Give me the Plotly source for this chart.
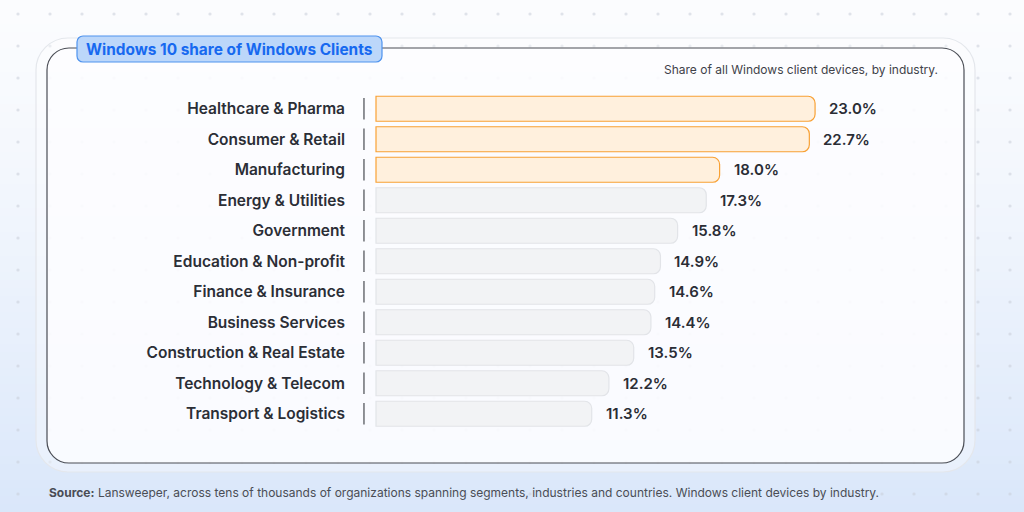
import plotly.graph_objects as go

industries = ["Healthcare & Pharma", "Consumer & Retail", "Manufacturing",
              "Energy & Utilities", "Government", "Education & Non-profit",
              "Finance & Insurance", "Business Services",
              "Construction & Real Estate", "Technology & Telecom",
              "Transport & Logistics"]
share = [23.0, 22.7, 18.0, 17.3, 15.8, 14.9, 14.6, 14.4, 13.5, 12.2, 11.3]
highlight = [True, True, True, False, False, False, False, False, False, False, False]

title = "Windows 10 share of Windows Clients"
subtitle = "Share of all Windows client devices, by industry."
source = ("<b>Source:</b> Lansweeper, across tens of thousands of organizations spanning "
          "segments, industries and countries. Windows client devices by industry.")

W, H = 1024, 512
FONT = "Inter, Roboto, sans-serif"


def px(x):
    return x / W


def py(y):
    return 1 - y / H


def rrect(x0, y0, x1, y1, r):
    # rounded rectangle path in paper coords, from pixel box
    k = 0.4477 * r
    pts = [
        f"M{px(x0 + r)},{py(y0)}",
        f"L{px(x1 - r)},{py(y0)}",
        f"C{px(x1 - k)},{py(y0)} {px(x1)},{py(y0 + k)} {px(x1)},{py(y0 + r)}",
        f"L{px(x1)},{py(y1 - r)}",
        f"C{px(x1)},{py(y1 - k)} {px(x1 - k)},{py(y1)} {px(x1 - r)},{py(y1)}",
        f"L{px(x0 + r)},{py(y1)}",
        f"C{px(x0 + k)},{py(y1)} {px(x0)},{py(y1 - k)} {px(x0)},{py(y1 - r)}",
        f"L{px(x0)},{py(y0 + r)}",
        f"C{px(x0)},{py(y0 + k)} {px(x0 + k)},{py(y0)} {px(x0 + r)},{py(y0)}",
        "Z",
    ]
    return " ".join(pts)


shapes = []

# background gradient bands
top = (251, 252, 254)
bot = (218, 231, 250)
n = 64
for i in range(n):
    t = (i / (n - 1)) ** 1.3
    c = tuple(round(top[j] + (bot[j] - top[j]) * t) for j in range(3))
    shapes.append(dict(type="rect", xref="paper", yref="paper", layer="below",
                       x0=0, x1=1, y0=py((i + 1) * H / n + 0.5), y1=py(i * H / n),
                       line=dict(width=0), fillcolor=f"rgb{c}"))

# dot grid
for gx in range(18, W, 32):
    for gy in range(14, H, 32):
        shapes.append(dict(type="circle", xref="paper", yref="paper", layer="below",
                           x0=px(gx - 1.6), x1=px(gx + 1.6), y0=py(gy + 1.6), y1=py(gy - 1.6),
                           line=dict(width=0), fillcolor="rgba(200,205,216,0.55)"))

# outer and inner panels
shapes.append(dict(type="path", xref="paper", yref="paper", layer="below",
                   path=rrect(36, 38, 975, 472, 32),
                   line=dict(color="#e4e7ec", width=1.2), fillcolor="rgba(255,255,255,0.35)"))
shapes.append(dict(type="path", xref="paper", yref="paper", layer="below",
                   path=rrect(47, 48, 964, 463, 22),
                   line=dict(color="#4a4d55", width=1.2), fillcolor="rgba(252,253,255,0.82)"))
# title box
shapes.append(dict(type="path", xref="paper", yref="paper", layer="below",
                   path=rrect(77, 36, 382, 62, 6),
                   line=dict(color="#4f93ee", width=1.2), fillcolor="#bcd7fa"))

fill = ["#fff0dd" if h else "#f2f3f5" for h in highlight]
edge = ["#f8a135" if h else "#e2e4e8" for h in highlight]

fig = go.Figure()
fig.add_trace(go.Bar(
    x=share, y=industries, orientation="h",
    marker=dict(color=fill, line=dict(color=edge, width=1.2), cornerradius=7),
    hoverinfo="x+y", showlegend=False,
))
# small separators between labels and bars
fig.add_trace(go.Scatter(
    x=[-0.63] * len(industries), y=industries, mode="markers",
    marker=dict(symbol="line-ns", size=15.5, color="#55585f",
                line=dict(color="#55585f", width=1.3)),
    hoverinfo="skip", showlegend=False,
))

annotations = []
for v, name in zip(share, industries):
    annotations.append(dict(x=v, y=name, xref="x", yref="y", text=f"{v:.1f}%",
                            showarrow=False, xanchor="left", xshift=12,
                            font=dict(family=FONT, size=15, color="#2a2d35", weight=600)))

annotations.append(dict(x=px(229.5), y=py(49), xref="paper", yref="paper", text=f"<b>{title}</b>",
                        showarrow=False, xanchor="center", yanchor="middle",
                        font=dict(family=FONT, size=15.4, color="#1769f0")))
annotations.append(dict(x=px(940), y=py(69), xref="paper", yref="paper", text=subtitle,
                        showarrow=False, xanchor="right", yanchor="middle",
                        font=dict(family=FONT, size=12, color="#3f4249")))
annotations.append(dict(x=px(47), y=py(492), xref="paper", yref="paper", text=source,
                        showarrow=False, xanchor="left", yanchor="middle",
                        font=dict(family=FONT, size=12, color="#4a4d55")))

fig.update_layout(
    width=W, height=H,
    margin=dict(l=0, r=0, t=0, b=0),
    paper_bgcolor="#f5f7fc", plot_bgcolor="rgba(0,0,0,0)",
    bargap=0.18,
    shapes=shapes,
    annotations=annotations,
    xaxis=dict(domain=[px(350), px(960)], range=[-26 / 19.09, 584 / 19.09],
               visible=False, fixedrange=True),
    yaxis=dict(domain=[py(429), py(93.5)], range=[10.5, -0.5],
               categoryorder="array", categoryarray=industries,
               showgrid=False, zeroline=False, showline=False, ticks="",
               ticklabelstandoff=4, fixedrange=True,
               tickfont=dict(family=FONT, size=15.5, color="#2b2e36", weight=600)),
    font=dict(family=FONT),
)

fig.write_html("out.html", config={"displayModeBar": False},
               post_script="document.body.style.margin='0';")
